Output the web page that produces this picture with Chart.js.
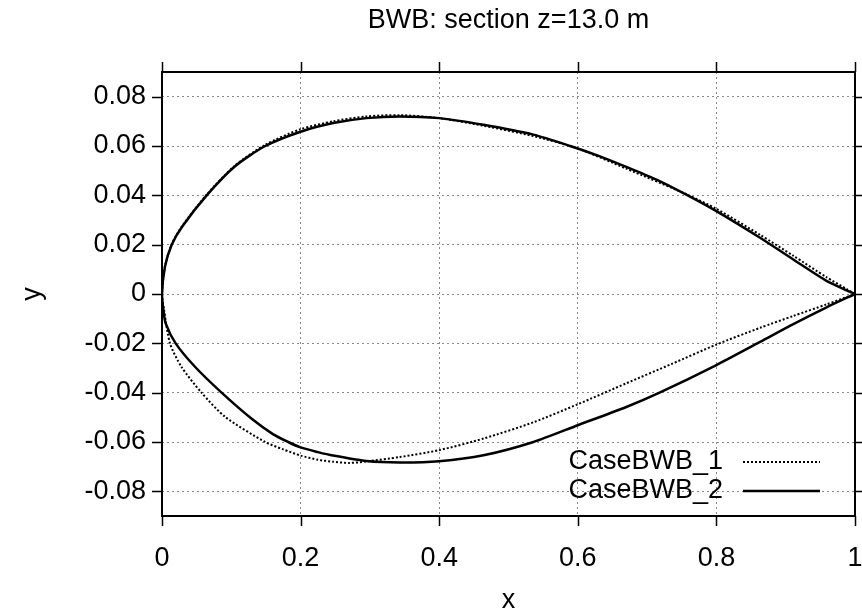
<!DOCTYPE html>
<html>
<head>
<meta charset="utf-8">
<script src="https://cdn.jsdelivr.net/npm/chart.js@4.4.1/dist/chart.umd.min.js"></script>
<style>
  html, body { margin: 0; padding: 0; background: #fff; }
  #wrap { width: 862px; height: 614px; }
</style>
</head>
<body>
<div id="wrap"><canvas id="c" width="862" height="614"></canvas></div>
<script>
// ---- Data ----
const chartTitle = 'BWB: section z=13.0 m';
const seriesNames = ['CaseBWB_1', 'CaseBWB_2'];

// CaseBWB_1 (dotted): upper surface TE -> LE, then lower surface LE -> TE
const case1X = [1.0, 0.988, 0.959, 0.911, 0.863, 0.8, 0.757, 0.670, 0.6, 0.536, 0.464, 0.4, 0.343, 0.295, 0.247, 0.2, 0.149, 0.105, 0.0645, 0.029, 0.014, 0.0043, 0.0,
                0.003, 0.0115, 0.028, 0.057, 0.091, 0.149, 0.175, 0.2, 0.225, 0.247, 0.27, 0.295, 0.343, 0.4, 0.464, 0.536, 0.6, 0.670, 0.735, 0.8, 0.863, 0.911, 0.959, 1.0];
const case1Y = [0.0, 0.0020, 0.0068, 0.0155, 0.0240, 0.0345, 0.0404, 0.0508, 0.0590, 0.0640, 0.0682, 0.0713, 0.0725, 0.0720, 0.0700, 0.0668, 0.0605, 0.0520, 0.0403, 0.0275, 0.0202, 0.0112, 0.0,
                -0.0065, -0.0200, -0.0295, -0.0400, -0.0498, -0.0600, -0.0630, -0.0655, -0.0672, -0.0680, -0.0685, -0.0679, -0.0661, -0.0633, -0.0586, -0.0520, -0.0447, -0.0362, -0.0284, -0.0205, -0.0137, -0.0089, -0.0042, 0.0];

// CaseBWB_2 (solid)
const case2X = [1.0, 0.988, 0.959, 0.911, 0.863, 0.8, 0.762, 0.718, 0.670, 0.632, 0.589, 0.536, 0.464, 0.4, 0.343, 0.295, 0.247, 0.2, 0.149, 0.105, 0.0645, 0.029, 0.014, 0.0043, 0.0,
                0.002, 0.0053, 0.0197, 0.0476, 0.086, 0.129, 0.160, 0.182, 0.2, 0.225, 0.247, 0.295, 0.343, 0.4, 0.464, 0.536, 0.6, 0.670, 0.718, 0.8, 0.863, 0.911, 0.959, 1.0];
const case2Y = [0.0, 0.0015, 0.0053, 0.0140, 0.0228, 0.0336, 0.0395, 0.0458, 0.0515, 0.0558, 0.0600, 0.0646, 0.0686, 0.0713, 0.0720, 0.0713, 0.0693, 0.0658, 0.0600, 0.0517, 0.0400, 0.0273, 0.0200, 0.0111, 0.0,
                -0.0065, -0.0119, -0.0200, -0.0295, -0.0400, -0.0505, -0.0568, -0.0600, -0.0622, -0.0641, -0.0655, -0.0677, -0.0683, -0.0678, -0.0654, -0.0600, -0.0532, -0.0458, -0.0400, -0.0288, -0.0194, -0.0122, -0.0054, 0.0];

const xTickValues = [0, 0.2, 0.4, 0.6, 0.8, 1];
const xTickLabels = ['0', '0.2', '0.4', '0.6', '0.8', '1'];
const yTickValues = [-0.08, -0.06, -0.04, -0.02, 0, 0.02, 0.04, 0.06, 0.08];
const yTickLabels = ['-0.08', '-0.06', '-0.04', '-0.02', '0', '0.02', '0.04', '0.06', '0.08'];

const FONT = '"Liberation Sans", Arial, sans-serif';
const FS = 27;

function toPoints(xs, ys) { return xs.map((v, i) => ({ x: v, y: ys[i] })); }

const framePlugin = {
  id: 'frame',
  afterDraw(chart) {
    const { ctx, chartArea, scales } = chart;
    const { left, right, top, bottom } = chartArea;
    const TL = 10;
    ctx.save();
    // title centred over the plot area
    ctx.font = FS + 'px ' + FONT;
    ctx.fillStyle = '#000';
    ctx.textAlign = 'center';
    ctx.textBaseline = 'middle';
    ctx.fillText(chartTitle, (left + right) / 2, 21);

    ctx.strokeStyle = '#000';
    ctx.lineWidth = 1.5;
    ctx.setLineDash([]);
    ctx.beginPath();
    scales.x.ticks.forEach(t => {
      const p = Math.round(scales.x.getPixelForValue(t.value)) + 0.5;
      ctx.moveTo(p, bottom); ctx.lineTo(p, bottom + TL);
      ctx.moveTo(p, top); ctx.lineTo(p, top - TL);
    });
    scales.y.ticks.forEach(t => {
      const p = Math.round(scales.y.getPixelForValue(t.value)) + 0.5;
      ctx.moveTo(left, p); ctx.lineTo(left - TL, p);
      ctx.moveTo(right, p); ctx.lineTo(right + TL, p);
    });
    ctx.stroke();
    ctx.lineWidth = 2;
    ctx.strokeRect(left, top, right - left, bottom - top);

    // legend (gnuplot style: right-aligned text, sample line to the right)
    ctx.textAlign = 'right';
    chart.data.datasets.forEach((ds, i) => {
      const yy = bottom - 54 + i * 29;
      ctx.fillText(ds.label, right - 132, yy);
      ctx.beginPath();
      ctx.lineWidth = ds.borderWidth;
      ctx.setLineDash(ds.borderDash || []);
      ctx.moveTo(right - 112, yy);
      ctx.lineTo(right - 35, yy);
      ctx.stroke();
    });
    ctx.restore();
  }
};

new Chart(document.getElementById('c'), {
  type: 'scatter',
  data: {
    datasets: [
      {
        label: seriesNames[0],
        data: toPoints(case1X, case1Y),
        showLine: true,
        borderColor: '#000',
        backgroundColor: '#000',
        borderWidth: 2,
        borderDash: [2, 2],
        pointRadius: 0,
        tension: 0.25,
        fill: false
      },
      {
        label: seriesNames[1],
        data: toPoints(case2X, case2Y),
        showLine: true,
        borderColor: '#000',
        backgroundColor: '#000',
        borderWidth: 2.5,
        pointRadius: 0,
        tension: 0.25,
        fill: false
      }
    ]
  },
  options: {
    responsive: false,
    animation: false,
    devicePixelRatio: 1,
    layout: { padding: { left: 0, right: 7, top: 72, bottom: 0 } },
    plugins: {
      legend: { display: false },
      tooltip: { enabled: false },
      title: { display: false }
    },
    scales: {
      x: {
        type: 'linear',
        min: 0, max: 1,
        afterBuildTicks: s => { s.ticks = xTickValues.map(v => ({ value: v })); },
        afterFit: s => { s.height = 98; s.paddingLeft = 0; s.paddingRight = 0; },
        ticks: {
          color: '#000',
          font: { family: FONT, size: FS },
          padding: 26,
          maxRotation: 0,
          callback: (v, i) => xTickLabels[i]
        },
        grid: { color: '#888', lineWidth: 1, drawTicks: false },
        border: { display: false, dash: [2, 3] },
        title: {
          display: true, text: 'x', color: '#000',
          font: { family: FONT, size: FS },
          padding: { top: 0, bottom: -3 }
        }
      },
      y: {
        type: 'linear',
        min: -0.09, max: 0.09,
        afterBuildTicks: s => { s.ticks = yTickValues.map(v => ({ value: v })); },
        afterFit: s => { s.width = 162; s.paddingTop = 0; s.paddingBottom = 0; },
        ticks: {
          color: '#000',
          font: { family: FONT, size: FS },
          padding: 16,
          callback: (v, i) => yTickLabels[i]
        },
        grid: { color: '#888', lineWidth: 1, drawTicks: false },
        border: { display: false, dash: [2, 3] },
        title: {
          display: true, text: 'y', color: '#000',
          font: { family: FONT, size: FS },
          padding: { top: 16, bottom: 0 }
        }
      }
    }
  },
  plugins: [framePlugin]
});
</script>
</body>
</html>
